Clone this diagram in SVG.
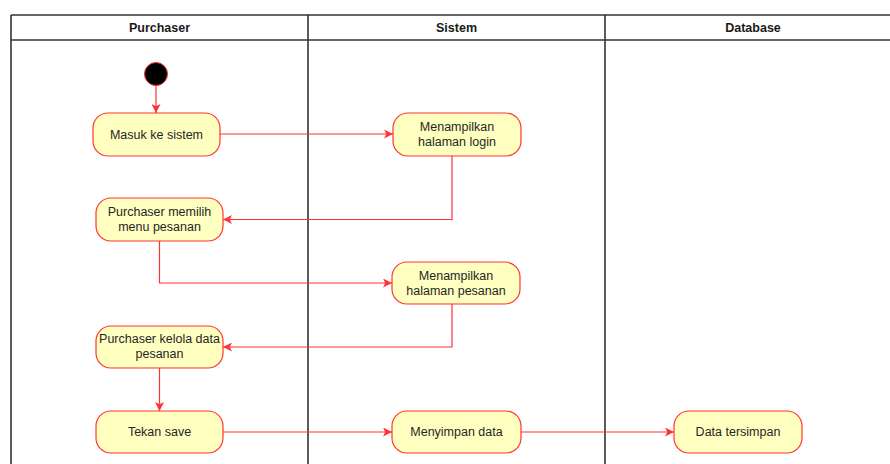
<svg xmlns="http://www.w3.org/2000/svg" width="890" height="464" viewBox="0 0 890 464">
  <style>
    .lane { fill: none; stroke: #333333; stroke-width: 1.6; }
    .head { font-family: "Liberation Sans", Arial, sans-serif; font-size: 12.5px; font-weight: bold; fill: #1a1a1a; text-anchor: middle; }
    .act rect { fill: #ffffc0; stroke: #ff3333; stroke-width: 1.2; }
    .act text { font-family: "Liberation Sans", Arial, sans-serif; font-size: 12.5px; fill: #262626; text-anchor: middle; }
    .edge { fill: none; stroke: #ff3333; stroke-width: 1.2; }
  </style>
  <defs>
    <marker id="arrow" viewBox="0 0 10 10" refX="10" refY="5" markerWidth="9" markerHeight="9" markerUnits="userSpaceOnUse" orient="auto">
      <path d="M0,0 L10,5 L0,10 L2.5,5 Z" fill="#ff3333"/>
    </marker>
  </defs>
  <rect width="890" height="464" fill="#ffffff"/>

  <!-- swimlanes -->
  <g id="lanes">
    <line class="lane" x1="11" y1="15" x2="890" y2="15"/>
    <line class="lane" x1="11" y1="40" x2="890" y2="40"/>
    <line class="lane" x1="11" y1="15" x2="11" y2="464"/>
    <line class="lane" x1="308" y1="15" x2="308" y2="464"/>
    <line class="lane" x1="605" y1="15" x2="605" y2="464"/>
    <text class="head" x="159.5" y="32">Purchaser</text>
    <text class="head" x="456.5" y="32">Sistem</text>
    <text class="head" x="753" y="32">Database</text>
  </g>

  <!-- connectors -->
  <g id="connectors">
    <path class="edge" d="M156,86 L156,113" marker-end="url(#arrow)"/>
    <path class="edge" d="M220,134 L393,134" marker-end="url(#arrow)"/>
    <path class="edge" d="M452,156 L452,219.5 L223,219.5" marker-end="url(#arrow)"/>
    <path class="edge" d="M159.5,241 L159.5,283 L392,283" marker-end="url(#arrow)"/>
    <path class="edge" d="M452,304 L452,347 L223,347" marker-end="url(#arrow)"/>
    <path class="edge" d="M159.5,368 L159.5,411" marker-end="url(#arrow)"/>
    <path class="edge" d="M223,432 L392,432" marker-end="url(#arrow)"/>
    <path class="edge" d="M521,432 L674,432" marker-end="url(#arrow)"/>
  </g>

  <!-- start node -->
  <g id="start">
    <circle cx="156" cy="74" r="11.5" fill="#000000" stroke="#ff3333" stroke-width="1"/>
  </g>

  <!-- activities -->
  <g id="masuk" class="act">
    <rect x="93" y="113" width="127" height="43" rx="15"/>
    <text x="156.5" y="138.5">Masuk ke sistem</text>
  </g>
  <g id="login" class="act">
    <rect x="393" y="113" width="128" height="43" rx="15"/>
    <text x="457" y="131">Menampilkan</text>
    <text x="457" y="146">halaman login</text>
  </g>
  <g id="memilih" class="act">
    <rect x="96" y="198" width="127" height="43" rx="15"/>
    <text x="159.5" y="216">Purchaser memilih</text>
    <text x="159.5" y="231">menu pesanan</text>
  </g>
  <g id="pesanan" class="act">
    <rect x="392" y="262" width="128" height="42" rx="15"/>
    <text x="456" y="280">Menampilkan</text>
    <text x="456" y="295">halaman pesanan</text>
  </g>
  <g id="kelola" class="act">
    <rect x="96" y="326" width="127" height="42" rx="15"/>
    <text x="159.5" y="343">Purchaser kelola data</text>
    <text x="159.5" y="358">pesanan</text>
  </g>
  <g id="save" class="act">
    <rect x="96" y="411" width="127" height="42" rx="15"/>
    <text x="159.5" y="436">Tekan save</text>
  </g>
  <g id="simpan" class="act">
    <rect x="392" y="411" width="129" height="42" rx="15"/>
    <text x="456.5" y="436">Menyimpan data</text>
  </g>
  <g id="tersimpan" class="act">
    <rect x="674" y="411" width="128" height="42" rx="15"/>
    <text x="738" y="436">Data tersimpan</text>
  </g>
</svg>
